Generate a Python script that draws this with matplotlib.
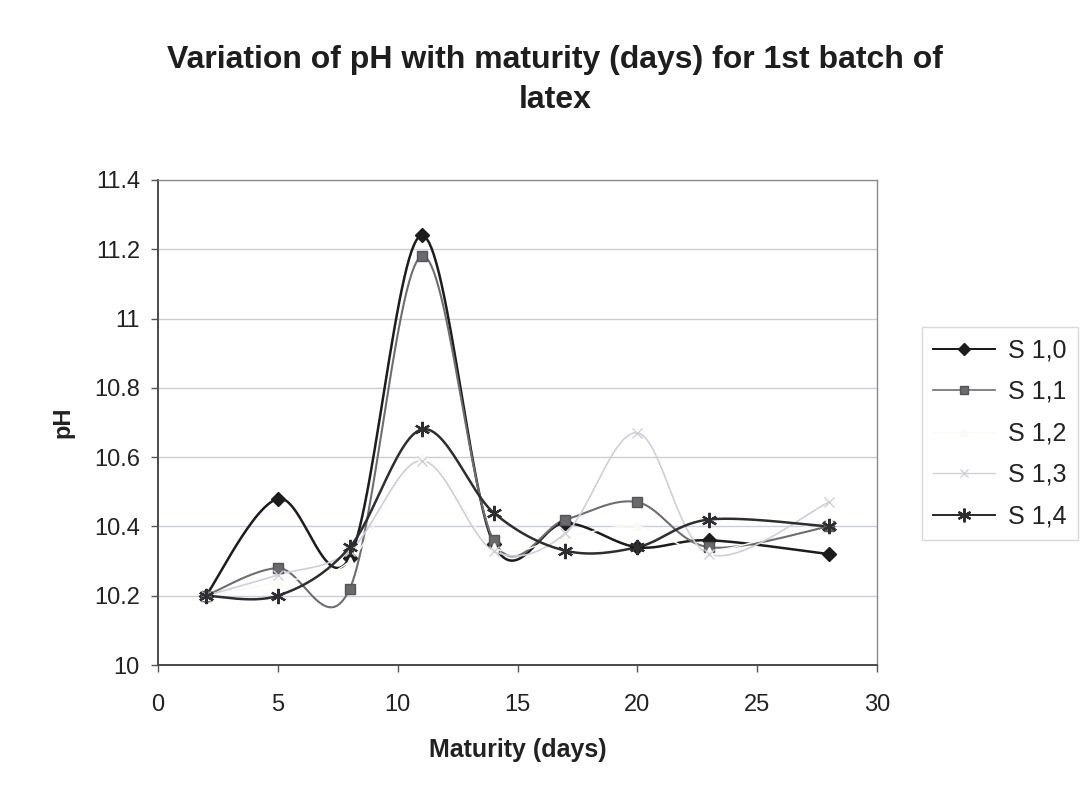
import matplotlib
matplotlib.use('Agg')
import matplotlib.pyplot as plt
import numpy as np
from matplotlib.lines import Line2D

plt.rcParams['font.family'] = ['Liberation Sans', 'DejaVu Sans']

# data
days = [2, 5, 8, 11, 14, 17, 20, 23, 28]
s10 = [10.20, 10.48, 10.31, 11.24, 10.35, 10.41, 10.34, 10.36, 10.32]
s11 = [10.20, 10.28, 10.22, 11.18, 10.36, 10.42, 10.47, 10.34, 10.40]
s12 = [10.20, 10.24, 10.30, 10.60, 10.34, 10.37, 10.40, 10.33, 10.42]
s13 = [10.20, 10.26, 10.33, 10.59, 10.33, 10.38, 10.67, 10.32, 10.47]
s14 = [10.20, 10.20, 10.34, 10.68, 10.44, 10.33, 10.34, 10.42, 10.40]
names = ['S 1,0', 'S 1,1', 'S 1,2', 'S 1,3', 'S 1,4']


def smooth(x, y, n=30):
    # Excel-like smoothed line: Catmull-Rom style bezier through the points
    p = np.column_stack([x, y]).astype(float)
    ext = np.vstack([p[0], p, p[-1]])
    t = np.linspace(0, 1, n)[:, None]
    out = []
    for i in range(len(p) - 1):
        p0, p3 = ext[i + 1], ext[i + 2]
        c1 = p0 + (ext[i + 2] - ext[i]) / 6
        c2 = p3 - (ext[i + 3] - ext[i + 1]) / 6
        seg = ((1 - t) ** 3) * p0 + 3 * ((1 - t) ** 2) * t * c1 \
            + 3 * (1 - t) * t ** 2 * c2 + t ** 3 * p3
        out.append(seg if i == 0 else seg[1:])
    seg = np.vstack(out)
    return seg[:, 0], seg[:, 1]


star = (6, 2, 0)
styles = [
    dict(color='#1c1c1c', lw=1.8, marker='D', ms=7, mfc='#1c1c1c', mec='#1c1c1c'),
    dict(color='#6e6e72', lw=1.5, marker='s', ms=7, mfc='#6a6a6e', mec='#555558'),
    dict(color='#fbfaf3', lw=1.0, marker='^', ms=6, mfc='#fbfaf3', mec='#fbfaf3'),
    dict(color='#cdd0da', lw=1.2, marker='x', ms=7, mfc='#cdd0da', mec='#cdd0da'),
    dict(color='#2e2e30', lw=1.8, marker=star, ms=11, mfc='#2e2e30', mec='#2e2e30', mew=1.6),
]
series = [s10, s11, s12, s13, s14]

fig = plt.figure(figsize=(10.84, 8.02), dpi=100)
ax = fig.add_axes([0.1458, 0.1708, 0.6632, 0.6048])

order = [2, 3, 1, 0, 4]
for k in order:
    st = styles[k]
    sx, sy = smooth(days, series[k])
    ax.plot(sx, sy, color=st['color'], lw=st['lw'], zorder=2 + k * 0.1)
    ax.plot(days, series[k], ls='none', marker=st['marker'], ms=st['ms'],
            mfc=st['mfc'], mec=st['mec'], mew=st.get('mew', 1.0), zorder=3 + k * 0.1)

ax.set_xlim(0, 30)
ax.set_ylim(10, 11.4)
ax.set_xticks(np.arange(0, 31, 5))
ax.set_yticks(np.arange(10, 11.41, 0.2))
ax.set_yticklabels(['10', '10.2', '10.4', '10.6', '10.8', '11', '11.2', '11.4'])
ax.grid(axis='y', color='#c9cdd9', lw=1.0)
ax.set_axisbelow(True)
ax.tick_params(axis='both', labelsize=17, colors='#555555', labelcolor='#222222',
               length=5, width=1, direction='out')
ax.tick_params(axis='x', pad=16)
ax.tick_params(axis='y', pad=8)
for side in ['left', 'bottom']:
    ax.spines[side].set_color('#4a4a4e')
    ax.spines[side].set_linewidth(1.4)
for side in ['right', 'top']:
    ax.spines[side].set_color('#8a8a90')
    ax.spines[side].set_linewidth(1.0)

ax.set_xlabel('Maturity (days)', fontsize=18, fontweight='bold', labelpad=16, color='#222222')
ax.set_ylabel('pH', fontsize=17, fontweight='bold', labelpad=14, color='#222222')

fig.text(0.512, 0.9, 'Variation of pH with maturity (days) for 1st batch of\nlatex',
         ha='center', va='center', fontsize=23, fontweight='bold', linespacing=1.45,
         color='#1e1e1e')

handles = []
for k in range(5):
    st = styles[k]
    handles.append(Line2D([], [], color=st['color'], lw=st['lw'] * 0.8, marker=st['marker'],
                          ms=st['ms'] * 0.9, mfc=st['mfc'], mec=st['mec'], mew=st.get('mew', 1.0)))
leg = fig.legend(handles, names, loc='upper left', bbox_to_anchor=(922 / 1084, 1 - 327 / 802),
                 fontsize=18, frameon=True, fancybox=False, handlelength=2.45,
                 handletextpad=0.55, labelspacing=0.7, borderpad=0.45, borderaxespad=0)
leg.get_frame().set_edgecolor('#cfd0d8')
leg.get_frame().set_linewidth(1.0)
for t in leg.get_texts():
    t.set_color('#222222')

fig.savefig('out.png', dpi=100, facecolor='white')
